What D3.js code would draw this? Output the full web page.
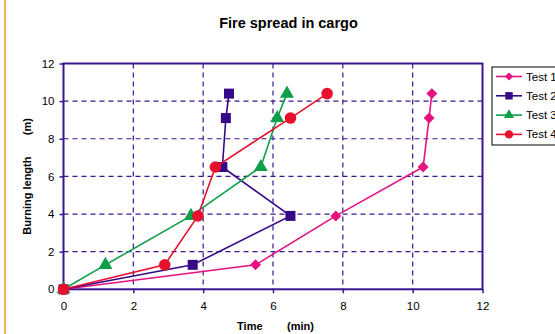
<!DOCTYPE html>
<html>
<head>
<meta charset="utf-8">
<script src="https://cdn.jsdelivr.net/npm/d3@7"></script>
<style>
  html, body { margin: 0; padding: 0; background: #fff; }
  svg { display: block; font-family: Arial, "Liberation Sans", sans-serif; }
</style>
</head>
<body>
<svg id="chart" width="555" height="334"></svg>
<script>
// Burning length reached at each measuring point (m)
const lengths = [0, 1.3, 3.9, 6.5, 9.1, 10.4];
// Time (min) at which each test reached those lengths
const test1Times = [0, 5.5, 7.8, 10.3, 10.47, 10.55];
const test2Times = [0, 3.7, 6.5, 4.55, 4.65, 4.74];
const test3Times = [0, 1.2, 3.65, 5.65, 6.12, 6.4];
const test4Times = [0, 2.9, 3.85, 4.35, 6.5, 7.55];
const seriesNames = ["Test 1", "Test 2", "Test 3", "Test 4"];
const xTicks = [0, 2, 4, 6, 8, 10, 12];
const yTicks = [0, 2, 4, 6, 8, 10, 12];

// Diamonds are squares turned by 45 degrees
const styles = [
  { color: "#e6127f", symbol: d3.symbolSquare, rotate: 45, size: 60, legendSize: 34 },
  { color: "#360a87", symbol: d3.symbolSquare, rotate: 0, size: 100, legendSize: 55 },
  { color: "#0f9e4a", symbol: d3.symbolTriangle, rotate: 0, size: 85, legendSize: 45 },
  { color: "#e8102e", symbol: d3.symbolCircle, rotate: 0, size: 105, legendSize: 55 }
];

const allTimes = [test1Times, test2Times, test3Times, test4Times];
const series = seriesNames.map((name, i) => ({
  name,
  points: allTimes[i].map((t, j) => ({ t, len: lengths[j] })),
  style: styles[i]
}));

const svg = d3.select("#chart");
const axisColor = "#3a1590";

const x = d3.scaleLinear().domain([0, 12]).range([63.5, 482.5]);
const y = d3.scaleLinear().domain([0, 12]).range([289.3, 63.5]);

// Page frame accent on the left edge
svg.append("line")
  .attr("x1", 5).attr("x2", 5).attr("y1", 0).attr("y2", 334)
  .attr("stroke", "#f2b25c").attr("stroke-width", 2);

// Title
svg.append("text")
  .attr("x", 288.5).attr("y", 27.5)
  .attr("text-anchor", "middle")
  .attr("font-size", 14.5).attr("font-weight", "bold")
  .attr("fill", "#000")
  .text("Fire spread in cargo");

// Dashed grid
const grid = svg.append("g");
grid.selectAll("line.v").data(xTicks.slice(1, -1)).join("line")
  .attr("x1", d => x(d)).attr("x2", d => x(d))
  .attr("y1", y(12)).attr("y2", y(0))
  .attr("stroke", axisColor).attr("stroke-width", 1.2)
  .attr("stroke-dasharray", "5,4");
grid.selectAll("line.h").data(yTicks.slice(1, -1)).join("line")
  .attr("x1", x(0)).attr("x2", x(12))
  .attr("y1", d => y(d)).attr("y2", d => y(d))
  .attr("stroke", axisColor).attr("stroke-width", 1.2)
  .attr("stroke-dasharray", "5,4");

// Axes
const xAxis = svg.append("g")
  .attr("transform", `translate(0,${y(0)})`)
  .call(d3.axisBottom(x).tickValues(xTicks).tickSize(4).tickPadding(9));
const yAxis = svg.append("g")
  .attr("transform", `translate(${x(0)},0)`)
  .call(d3.axisLeft(y).tickValues(yTicks).tickSize(4).tickPadding(5));
[xAxis, yAxis].forEach(g => {
  g.select(".domain").remove();
  g.selectAll(".tick line").attr("stroke", axisColor).attr("stroke-width", 1.5);
  g.selectAll(".tick text")
    .attr("fill", "#000")
    .attr("font-size", 11.5)
    .attr("font-family", "Arial, 'Liberation Sans', sans-serif");
});

// Plot border
svg.append("rect")
  .attr("x", x(0)).attr("y", y(12))
  .attr("width", x(12) - x(0)).attr("height", y(0) - y(12))
  .attr("fill", "none").attr("stroke", axisColor).attr("stroke-width", 2);

// Axis titles
svg.append("text")
  .attr("x", 275.5).attr("y", 330)
  .attr("text-anchor", "middle")
  .attr("font-size", 11).attr("font-weight", "bold")
  .style("white-space", "pre")
  .text("Time        (min)");
svg.append("text")
  .attr("transform", `translate(31,${(y(0) + y(12)) / 2}) rotate(-90)`)
  .attr("text-anchor", "middle")
  .attr("font-size", 11).attr("font-weight", "bold")
  .style("white-space", "pre")
  .text("Burning length       (m)");

// Series lines and markers
const line = d3.line().x(d => x(d.t)).y(d => y(d.len));
series.forEach(s => {
  const g = svg.append("g");
  g.append("path")
    .attr("d", line(s.points))
    .attr("fill", "none")
    .attr("stroke", s.style.color)
    .attr("stroke-width", 1.6);
  g.selectAll("path.marker").data(s.points).join("path")
    .attr("class", "marker")
    .attr("transform", d => `translate(${x(d.t)},${y(d.len)}) rotate(${s.style.rotate})`)
    .attr("d", d3.symbol().type(s.style.symbol).size(s.style.size))
    .attr("fill", s.style.color);
});

// Legend (the box runs past the right edge of the page)
const legend = svg.append("g");
legend.append("rect")
  .attr("x", 492).attr("y", 67)
  .attr("width", 80).attr("height", 78)
  .attr("fill", "#fff").attr("stroke", "#000").attr("stroke-width", 1);
series.forEach((s, i) => {
  const cy = 76.5 + i * 19.3;
  legend.append("line")
    .attr("x1", 496).attr("x2", 522).attr("y1", cy).attr("y2", cy)
    .attr("stroke", s.style.color).attr("stroke-width", 1.6);
  legend.append("path")
    .attr("transform", `translate(509,${cy}) rotate(${s.style.rotate})`)
    .attr("d", d3.symbol().type(s.style.symbol).size(s.style.legendSize))
    .attr("fill", s.style.color);
  legend.append("text")
    .attr("x", 526).attr("y", cy + 4)
    .attr("font-size", 11.5).attr("fill", "#000")
    .text(s.name);
});
</script>
</body>
</html>
